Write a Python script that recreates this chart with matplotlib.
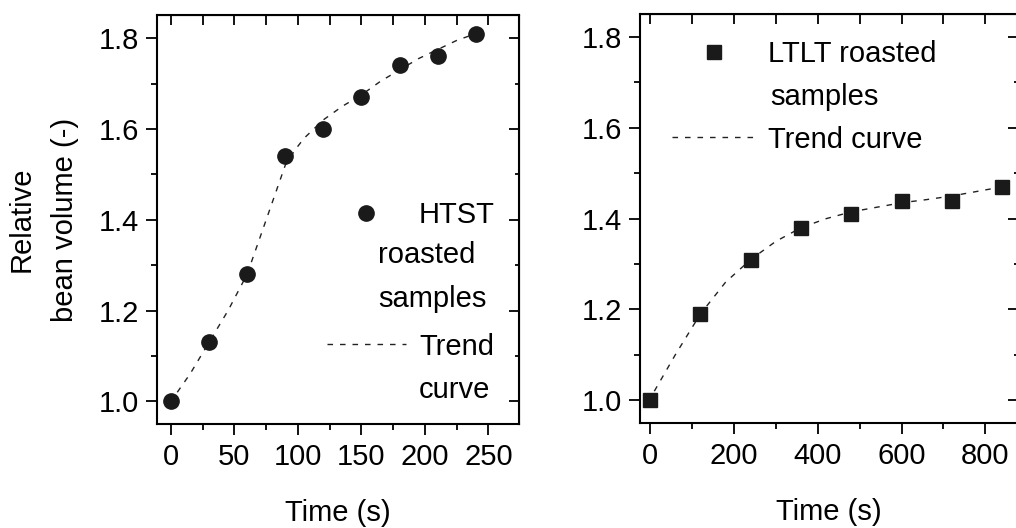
import matplotlib
matplotlib.use("Agg")
import matplotlib.pyplot as plt
from matplotlib.lines import Line2D
from matplotlib.ticker import MultipleLocator

plt.rcParams['font.family'] = ['Liberation Sans', 'DejaVu Sans']
plt.rcParams['font.size'] = 21

# HTST roasting
htst_time = [0, 30, 60, 90, 120, 150, 180, 210, 240]
htst_volume = [1.00, 1.13, 1.28, 1.54, 1.60, 1.67, 1.74, 1.76, 1.81]
htst_trend_time = [5, 15, 30, 45, 60, 75, 90, 98, 105, 120, 135, 150, 165, 180, 195, 210, 225, 240]
htst_trend_volume = [1.02, 1.06, 1.13, 1.20, 1.28, 1.40, 1.52, 1.555, 1.58, 1.62, 1.65, 1.675,
                     1.705, 1.73, 1.755, 1.775, 1.795, 1.81]

# LTLT roasting
ltlt_time = [0, 120, 240, 360, 480, 600, 720, 840]
ltlt_volume = [1.00, 1.19, 1.31, 1.38, 1.41, 1.44, 1.44, 1.47]
ltlt_trend_time = [10, 60, 120, 180, 240, 300, 360, 420, 480, 540, 600, 660, 720, 780, 840]
ltlt_trend_volume = [1.02, 1.10, 1.19, 1.26, 1.31, 1.35, 1.38, 1.40, 1.415, 1.425, 1.435,
                     1.442, 1.45, 1.46, 1.47]

mcol = "#1a1a1a"
dash = (0, (4, 5))

fig = plt.figure(figsize=(10.16, 5.28), dpi=100)
ax1 = fig.add_axes([0.1545, 0.197, 0.3563, 0.7746])
ax2 = fig.add_axes([0.63, 0.199, 0.372, 0.7746])


def style(ax, xmaj, xmin):
    for s in ax.spines.values():
        s.set_linewidth(1.5)
    ax.set_ylim(0.95, 1.851)
    ax.xaxis.set_major_locator(MultipleLocator(xmaj))
    ax.xaxis.set_minor_locator(MultipleLocator(xmin))
    ax.yaxis.set_major_locator(MultipleLocator(0.2))
    ax.yaxis.set_minor_locator(MultipleLocator(0.1))
    ax.yaxis.set_major_formatter(plt.FormatStrFormatter('%.1f'))
    ax.tick_params(which='both', direction='out', width=1.3, labelsize=21)
    ax.tick_params(which='major', length=8)
    ax.tick_params(which='minor', length=4)
    ax.tick_params(axis='x', pad=6)
    ax.tick_params(axis='y', pad=5)
    top = ax.secondary_xaxis('top')
    top.xaxis.set_major_locator(MultipleLocator(xmin))
    top.xaxis.set_minor_locator(MultipleLocator(xmin))
    top.tick_params(which='both', direction='in', length=7, width=1.3, labeltop=False)
    right = ax.secondary_yaxis('right')
    right.yaxis.set_major_locator(MultipleLocator(0.2))
    right.yaxis.set_minor_locator(MultipleLocator(0.1))
    right.tick_params(which='major', direction='in', length=7, width=1.3, labelright=False)
    right.tick_params(which='minor', direction='in', length=3, width=1.3)
    ax.set_xlabel("Time (s)", labelpad=20)


ax1.plot(htst_trend_time, htst_trend_volume, color="#222222", lw=1, linestyle=dash)
ax1.plot(htst_time, htst_volume, 'o', color=mcol, ms=11)
ax1.set_xlim(-11, 274)
style(ax1, 50, 25)
ax1.set_ylabel("Relative\nbean volume (-)", linespacing=1.7, labelpad=14)

h1 = [Line2D([], [], marker='o', color=mcol, ms=11, linestyle='none'),
      Line2D([], [], color="#222222", lw=1, linestyle=dash)]
ax1.legend(h1, ["HTST", "Trend"], loc='upper left', bbox_to_anchor=(0.47, 0.545),
           frameon=False, borderpad=0, borderaxespad=0, handlelength=2.7,
           handletextpad=0.45, labelspacing=3.55, fontsize=21)
ax1.text(0.61, 0.393, "roasted", transform=ax1.transAxes, fontsize=21, va='baseline')
ax1.text(0.61, 0.286, "samples", transform=ax1.transAxes, fontsize=21, va='baseline')
ax1.text(0.724, 0.064, "curve", transform=ax1.transAxes, fontsize=21, va='baseline')

ax2.plot(ltlt_trend_time, ltlt_trend_volume, color="#222222", lw=1, linestyle=dash)
ax2.plot(ltlt_time, ltlt_volume, 's', color=mcol, ms=10)
ax2.set_xlim(-24, 878)
style(ax2, 200, 100)

h2 = [Line2D([], [], marker='s', color=mcol, ms=10, linestyle='none'),
      Line2D([], [], color="#222222", lw=1, linestyle=dash)]
ax2.legend(h2, ["LTLT roasted", "Trend curve"], loc='upper left', bbox_to_anchor=(0.085, 0.936),
           frameon=False, borderpad=0, borderaxespad=0, handlelength=2.85,
           handletextpad=0.45, labelspacing=1.97, fontsize=21)
ax2.text(0.344, 0.7775, "samples", transform=ax2.transAxes, fontsize=21, va='baseline')

fig.savefig("out.png", dpi=100)
